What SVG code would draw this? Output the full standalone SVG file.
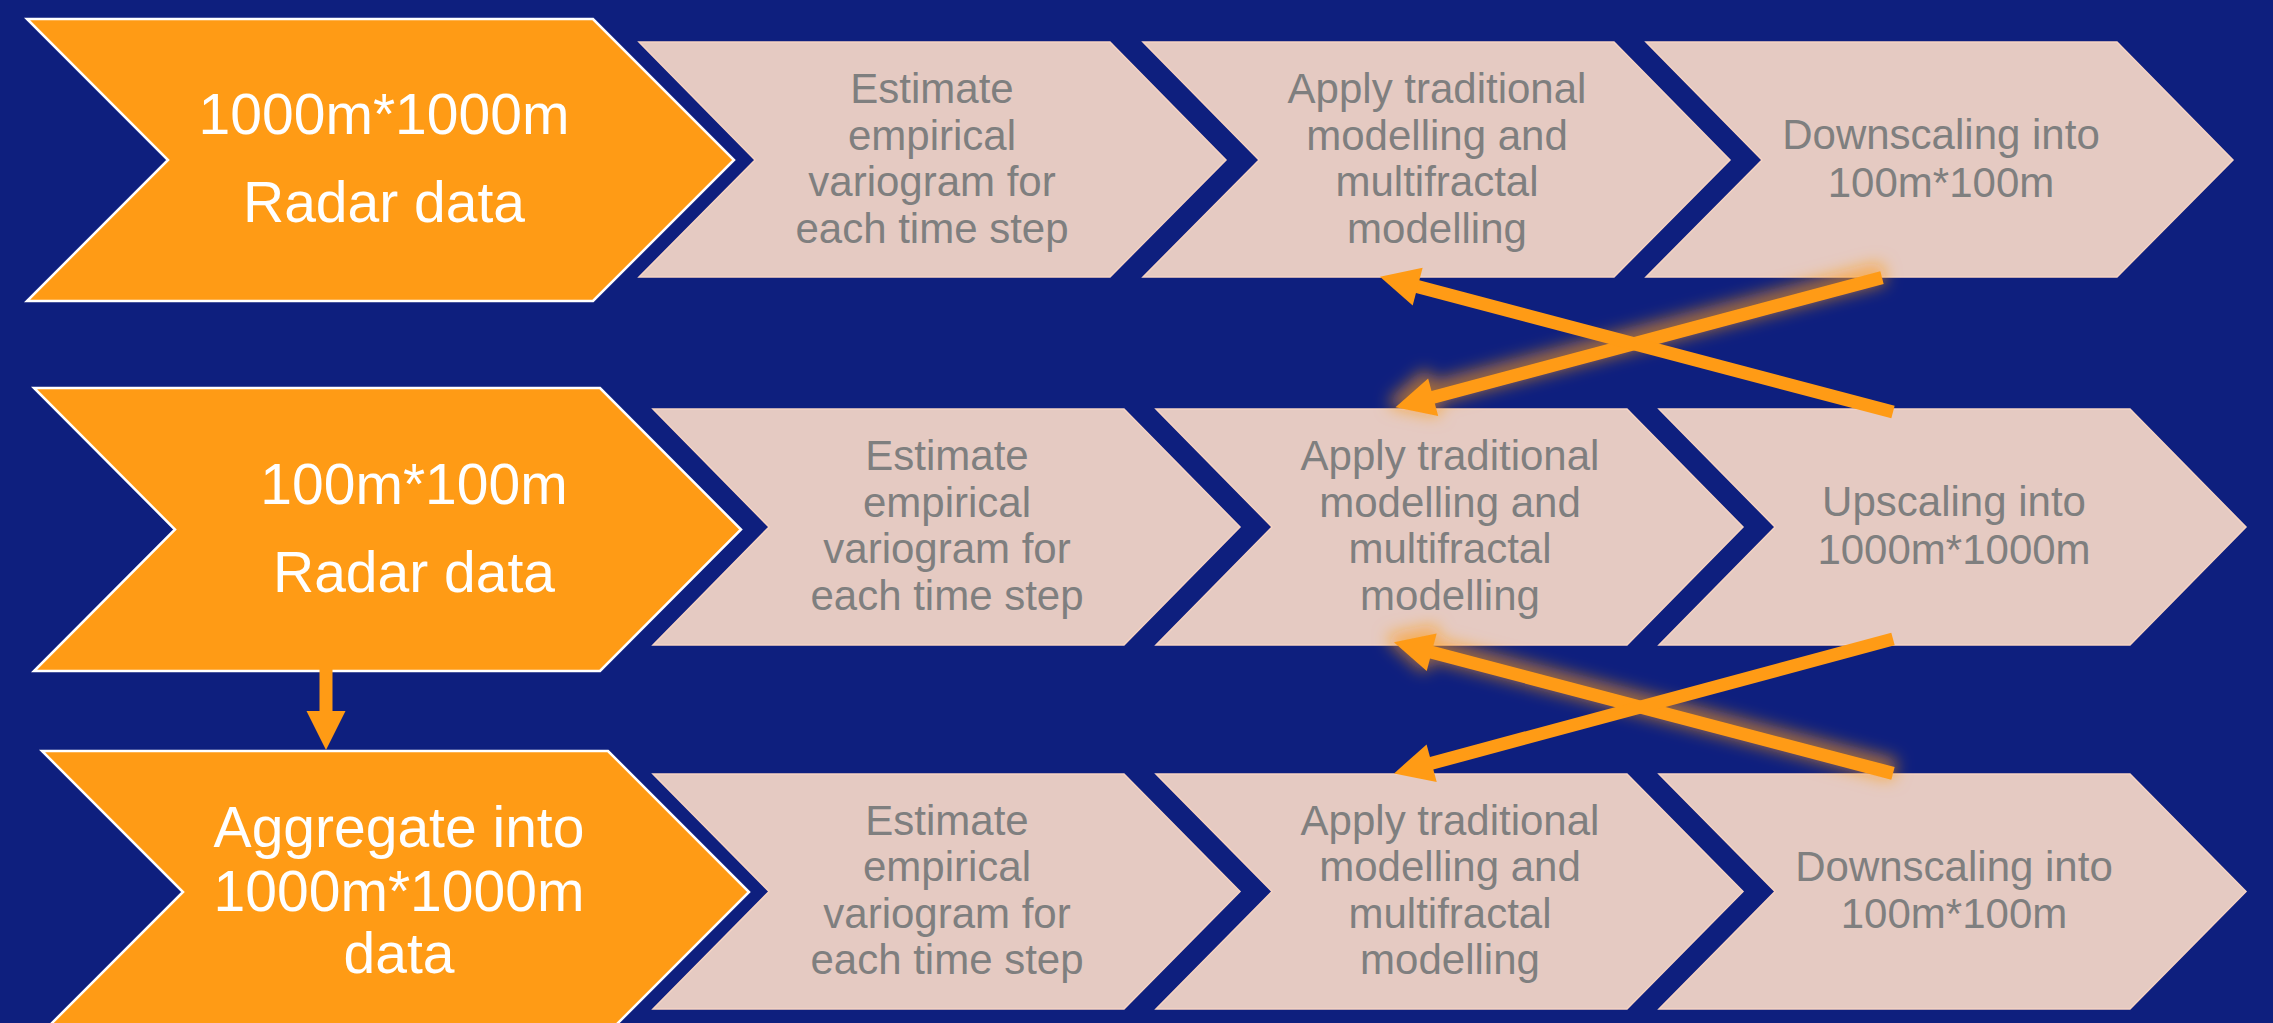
<svg xmlns="http://www.w3.org/2000/svg" width="2273" height="1023" viewBox="0 0 2273 1023">
  <style>
    .bg { fill: #0E1F7E; }
    .src { fill: #FF9B15; stroke: #FFFFFF; stroke-width: 2.5; stroke-linejoin: miter; }
    .step { fill: #E5CAC2; stroke: #F6D3C3; stroke-width: 1.5; }
    .src-text { font-family: "Liberation Sans", Arial, sans-serif; font-size: 57px; fill: #FFFFFF; text-anchor: middle; }
    .step-text { font-family: "Liberation Sans", Arial, sans-serif; font-size: 42px; fill: #7F7F7F; text-anchor: middle; }
    .arrow { fill: none; stroke: #FF9B15; stroke-width: 13; stroke-linecap: butt; marker-end: url(#head); }
    .glow { filter: url(#orangeGlow); }
  </style>
  <defs>
    <marker id="head" markerUnits="userSpaceOnUse" markerWidth="40" markerHeight="40" refX="1" refY="20" orient="auto" overflow="visible">
      <path d="M0,0.5 L39,20 L0,39.5 Z" fill="#FF9B15"/>
    </marker>
    <filter id="orangeGlow" filterUnits="userSpaceOnUse" x="0" y="0" width="2273" height="1023">
      <feMorphology in="SourceAlpha" operator="dilate" radius="4" result="grown"/>
      <feGaussianBlur in="grown" stdDeviation="8" result="soft"/>
      <feOffset in="soft" dx="-2" dy="-4" result="shifted"/>
      <feFlood flood-color="#FF9B15" flood-opacity="0.6"/>
      <feComposite in2="shifted" operator="in" result="halo"/>
      <feMerge>
        <feMergeNode in="halo"/>
        <feMergeNode in="SourceGraphic"/>
      </feMerge>
    </filter>
  </defs>

  <rect class="bg" x="0" y="0" width="2273" height="1023"/>

  <!-- Row 1: 1000m source data -->
  <g id="src-1000m">
    <path class="src" d="M27,19 H593 L734,160 L593,301 H27 L168,160 Z"/>
    <text class="src-text"><tspan x="384" y="134">1000m*1000m</tspan><tspan x="384" y="222">Radar data</tspan></text>
  </g>
  <g id="r1-variogram">
    <path class="step" d="M639,42 H1110 L1226,160 L1110,277 H639 L755,160 Z"/>
    <text class="step-text"><tspan x="932" y="103">Estimate</tspan><tspan x="932" y="149.5">empirical</tspan><tspan x="932" y="196">variogram for</tspan><tspan x="932" y="242.5">each time step</tspan></text>
  </g>
  <g id="r1-modelling">
    <path class="step" d="M1143,42 H1614 L1730,160 L1614,277 H1143 L1259,160 Z"/>
    <text class="step-text"><tspan x="1437" y="103">Apply traditional</tspan><tspan x="1437" y="149.5">modelling and</tspan><tspan x="1437" y="196">multifractal</tspan><tspan x="1437" y="242.5">modelling</tspan></text>
  </g>
  <g id="r1-downscaling">
    <path class="step" d="M1646,42 H2117 L2233,160 L2117,277 H1646 L1762,160 Z"/>
    <text class="step-text"><tspan x="1941" y="149">Downscaling into</tspan><tspan x="1941" y="196.5">100m*100m</tspan></text>
  </g>

  <!-- Row 2: 100m source data -->
  <g id="src-100m">
    <path class="src" d="M34,388 H600 L741,529.5 L600,671 H34 L175,529.5 Z"/>
    <text class="src-text"><tspan x="414" y="504">100m*100m</tspan><tspan x="414" y="592">Radar data</tspan></text>
  </g>
  <g id="r2-variogram">
    <path class="step" d="M653,409 H1124 L1240,527 L1124,645 H653 L769,527 Z"/>
    <text class="step-text"><tspan x="947" y="470">Estimate</tspan><tspan x="947" y="516.5">empirical</tspan><tspan x="947" y="563">variogram for</tspan><tspan x="947" y="609.5">each time step</tspan></text>
  </g>
  <g id="r2-modelling">
    <path class="step" d="M1156,409 H1627 L1743,527 L1627,645 H1156 L1272,527 Z"/>
    <text class="step-text"><tspan x="1450" y="470">Apply traditional</tspan><tspan x="1450" y="516.5">modelling and</tspan><tspan x="1450" y="563">multifractal</tspan><tspan x="1450" y="609.5">modelling</tspan></text>
  </g>
  <g id="r2-upscaling">
    <path class="step" d="M1659,409 H2130 L2246,527 L2130,645 H1659 L1775,527 Z"/>
    <text class="step-text"><tspan x="1954" y="516">Upscaling into</tspan><tspan x="1954" y="563.5">1000m*1000m</tspan></text>
  </g>

  <!-- Row 3: aggregated data -->
  <g id="src-aggregate">
    <path class="src" d="M42,751 H608 L749,892 L608,1033 H42 L183,892 Z"/>
    <text class="src-text"><tspan x="399" y="847">Aggregate into</tspan><tspan x="399" y="911">1000m*1000m</tspan><tspan x="399" y="973">data</tspan></text>
  </g>
  <g id="r3-variogram">
    <path class="step" d="M653,774 H1124 L1240,891.5 L1124,1009 H653 L769,891.5 Z"/>
    <text class="step-text"><tspan x="947" y="834.5">Estimate</tspan><tspan x="947" y="881">empirical</tspan><tspan x="947" y="927.5">variogram for</tspan><tspan x="947" y="974">each time step</tspan></text>
  </g>
  <g id="r3-modelling">
    <path class="step" d="M1156,774 H1627 L1743,891.5 L1627,1009 H1156 L1272,891.5 Z"/>
    <text class="step-text"><tspan x="1450" y="834.5">Apply traditional</tspan><tspan x="1450" y="881">modelling and</tspan><tspan x="1450" y="927.5">multifractal</tspan><tspan x="1450" y="974">modelling</tspan></text>
  </g>
  <g id="r3-downscaling">
    <path class="step" d="M1659,774 H2130 L2246,891.5 L2130,1009 H1659 L1775,891.5 Z"/>
    <text class="step-text"><tspan x="1954" y="880.5">Downscaling into</tspan><tspan x="1954" y="928">100m*100m</tspan></text>
  </g>

  <!-- Connectors -->
  <g id="connectors">
    <line class="arrow glow" x1="1882" y1="277.6" x2="1432.2" y2="397.5"/>
    <line class="arrow glow" x1="1893" y1="773.4" x2="1430.7" y2="652"/>
    <line class="arrow" x1="1893" y1="412" x2="1416.7" y2="286.4"/>
    <line class="arrow" x1="1893" y1="639" x2="1430.7" y2="763.5"/>
    <line class="arrow" x1="326" y1="664" x2="326" y2="712"/>
  </g>
</svg>
